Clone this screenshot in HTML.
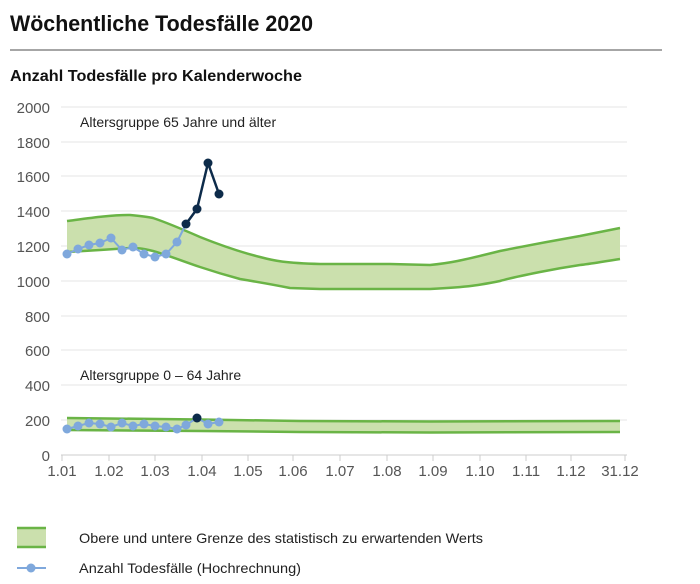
<!DOCTYPE html>
<html><head><meta charset="utf-8"><style>
body{margin:0;background:#fff;}
svg{display:block;font-family:"Liberation Sans",sans-serif;}
</style></head><body>
<svg width="700" height="584" viewBox="0 0 700 584">
<text x="10" y="31" font-size="22" font-weight="bold" fill="#111" textLength="303" lengthAdjust="spacingAndGlyphs">Wöchentliche Todesfälle 2020</text>
<line x1="10" y1="50" x2="662" y2="50" stroke="#888" stroke-width="1.5"/>
<text x="10" y="81" font-size="16" font-weight="bold" fill="#111" textLength="292" lengthAdjust="spacingAndGlyphs">Anzahl Todesfälle pro Kalenderwoche</text>
<g stroke="#e6e6e6" stroke-width="1">
<line x1="61" y1="107" x2="627" y2="107"/><line x1="61" y1="142" x2="627" y2="142"/>
<line x1="61" y1="176" x2="627" y2="176"/><line x1="61" y1="211" x2="627" y2="211"/>
<line x1="61" y1="246" x2="627" y2="246"/><line x1="61" y1="281" x2="627" y2="281"/>
<line x1="61" y1="316" x2="627" y2="316"/><line x1="61" y1="350" x2="627" y2="350"/>
<line x1="61" y1="385" x2="627" y2="385"/><line x1="61" y1="420" x2="627" y2="420"/>
</g>
<line x1="61" y1="455" x2="627" y2="455" stroke="#ccc"/>
<g stroke="#ccc"><line x1="62" y1="455" x2="62" y2="461"/><line x1="109" y1="455" x2="109" y2="461"/><line x1="155" y1="455" x2="155" y2="461"/><line x1="202" y1="455" x2="202" y2="461"/><line x1="248" y1="455" x2="248" y2="461"/><line x1="293" y1="455" x2="293" y2="461"/><line x1="340" y1="455" x2="340" y2="461"/><line x1="387" y1="455" x2="387" y2="461"/><line x1="433" y1="455" x2="433" y2="461"/><line x1="480" y1="455" x2="480" y2="461"/><line x1="526" y1="455" x2="526" y2="461"/><line x1="571" y1="455" x2="571" y2="461"/><line x1="625" y1="455" x2="625" y2="461"/></g>
<g font-size="15" fill="#555" text-anchor="end">
<text x="50" y="113">2000</text><text x="50" y="148">1800</text><text x="50" y="182">1600</text><text x="50" y="217">1400</text><text x="50" y="252">1200</text><text x="50" y="287">1000</text><text x="50" y="322">800</text><text x="50" y="356">600</text><text x="50" y="391">400</text><text x="50" y="426">200</text><text x="50" y="461">0</text>
</g>
<g font-size="15" fill="#555" text-anchor="middle">
<text x="62" y="476">1.01</text><text x="109" y="476">1.02</text><text x="155" y="476">1.03</text><text x="202" y="476">1.04</text><text x="248" y="476">1.05</text><text x="293" y="476">1.06</text><text x="340" y="476">1.07</text><text x="387" y="476">1.08</text><text x="433" y="476">1.09</text><text x="480" y="476">1.10</text><text x="526" y="476">1.11</text><text x="571" y="476">1.12</text><text x="620" y="476">31.12</text>
</g>
<text x="80" y="127" font-size="14" fill="#222">Altersgruppe 65 Jahre und älter</text>
<text x="80" y="380" font-size="14" fill="#222">Altersgruppe 0 – 64 Jahre</text>
<!-- band 65+ -->
<path d="M67,221 C90,218 110,215 130,215 C140,216 148,217 153,218 C165,222 175,226 200,237 C220,245 240,252 260,257 C275,261 285,263 320,264 L390,264 L430,265 C450,263 460,261 500,251 C520,247 540,243 580,236 L620,228 L620,259 C600,262 590,264 580,265 C560,268 550,270 540,272 C520,276 510,278 500,281 C480,285 470,287 430,289 L400,289 L360,289 L320,289 C300,288 295,288 290,288 C280,286 270,284 240,279 C225,275 215,272 200,267 C185,262 170,256 153,251 C145,249 140,248 130,248 L100,250 L67,252 Z" fill="#cbe0ad" stroke="none"/>
<path d="M67,221 C90,218 110,215 130,215 C140,216 148,217 153,218 C165,222 175,226 200,237 C220,245 240,252 260,257 C275,261 285,263 320,264 L390,264 L430,265 C450,263 460,261 500,251 C520,247 540,243 580,236 L620,228" fill="none" stroke="#6ab446" stroke-width="2.5"/>
<path d="M67,252 L100,250 L130,248 C140,248 145,249 153,251 C170,256 185,262 200,267 C215,272 225,275 240,279 C270,284 280,286 290,288 L320,289 L400,289 L430,289 C470,287 480,285 500,281 C510,278 520,276 540,272 C550,270 560,268 580,265 C590,264 600,262 620,259" fill="none" stroke="#6ab446" stroke-width="2.5"/>
<!-- band 0-64 -->
<path d="M67,418 L200,419.5 L300,421 L430,421.5 L620,421 L620,432 L430,432.5 L300,432 L200,431 L67,430 Z" fill="#cbe0ad" stroke="none"/>
<path d="M67,418 L200,419.5 L300,421 L430,421.5 L620,421" fill="none" stroke="#6ab446" stroke-width="2.5"/>
<path d="M67,430 L200,431 L300,432 L430,432.5 L620,432" fill="none" stroke="#6ab446" stroke-width="2.5"/>
<!-- data 65+ -->
<polyline points="67,254 78,249 89,245 100,243 111,238 122,250 133,247 144,254 155,257 166,254 177,242 186,224" fill="none" stroke="#7fa8dc" stroke-width="2"/>
<g fill="#7fa8dc"><circle cx="67" cy="254" r="4.5"/><circle cx="78" cy="249" r="4.5"/><circle cx="89" cy="245" r="4.5"/><circle cx="100" cy="243" r="4.5"/><circle cx="111" cy="238" r="4.5"/><circle cx="122" cy="250" r="4.5"/><circle cx="133" cy="247" r="4.5"/><circle cx="144" cy="254" r="4.5"/><circle cx="155" cy="257" r="4.5"/><circle cx="166" cy="254" r="4.5"/><circle cx="177" cy="242" r="4.5"/></g>
<polyline points="186,224 197,209 208,163 219,194" fill="none" stroke="#0d2b4a" stroke-width="2.5"/>
<g fill="#0d2b4a"><circle cx="186" cy="224" r="4.5"/><circle cx="197" cy="209" r="4.5"/><circle cx="208" cy="163" r="4.5"/><circle cx="219" cy="194" r="4.5"/></g>
<!-- data 0-64 -->
<polyline points="67,429 78,426 89,423 100,424 111,427 122,423 133,426 144,424 155,426 166,427 177,429 186,425 197,418 208,424 219,422" fill="none" stroke="#7fa8dc" stroke-width="2"/>
<g fill="#7fa8dc"><circle cx="67" cy="429" r="4.5"/><circle cx="78" cy="426" r="4.5"/><circle cx="89" cy="423" r="4.5"/><circle cx="100" cy="424" r="4.5"/><circle cx="111" cy="427" r="4.5"/><circle cx="122" cy="423" r="4.5"/><circle cx="133" cy="426" r="4.5"/><circle cx="144" cy="424" r="4.5"/><circle cx="155" cy="426" r="4.5"/><circle cx="166" cy="427" r="4.5"/><circle cx="177" cy="429" r="4.5"/><circle cx="186" cy="425" r="4.5"/><circle cx="208" cy="424" r="4.5"/><circle cx="219" cy="422" r="4.5"/></g>
<circle cx="197" cy="418" r="4.5" fill="#0d2b4a"/>
<!-- legend -->
<rect x="17" y="528" width="29" height="19" fill="#cbe0ad"/>
<line x1="17" y1="528" x2="46" y2="528" stroke="#6ab446" stroke-width="2.5"/>
<line x1="17" y1="547" x2="46" y2="547" stroke="#6ab446" stroke-width="2.5"/>
<text x="79" y="543" font-size="14" fill="#222" textLength="404" lengthAdjust="spacingAndGlyphs">Obere und untere Grenze des statistisch zu erwartenden Werts</text>
<line x1="17" y1="568" x2="46" y2="568" stroke="#7fa8dc" stroke-width="2"/>
<circle cx="31" cy="568" r="4.5" fill="#7fa8dc"/>
<text x="79" y="573" font-size="14" fill="#222" textLength="222" lengthAdjust="spacingAndGlyphs">Anzahl Todesfälle (Hochrechnung)</text>
</svg>
</body></html>
